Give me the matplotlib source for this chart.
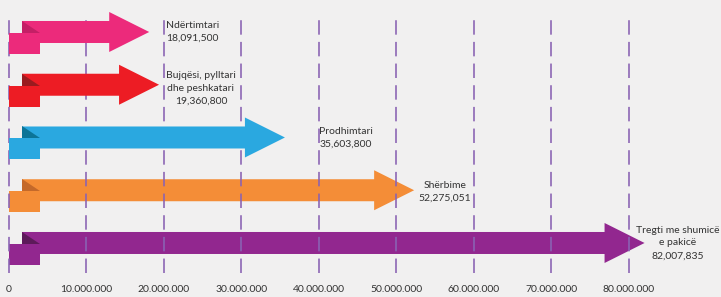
import numpy as np
import matplotlib.pyplot as plt
from matplotlib.patches import Polygon

# data
categories = ['Ndërtimtari', 'Bujqësi, pylltari\ndhe peshkatari', 'Prodhimtari',
              'Shërbime', 'Tregti me shumicë\ne pakicë']
values = [18091500, 19360800, 35603800, 52275051, 82007835]
value_labels = ['18,091,500', '19,360,800', '35,603,800', '52,275,051', '82,007,835']
ticks = [0, 10e6, 20e6, 30e6, 40e6, 50e6, 60e6, 70e6, 80e6]
tick_labels = ['0', '10.000.000', '20.000.000', '30.000.000', '40.000.000',
               '50.000.000', '60.000.000', '70.000.000', '80.000.000']

colors = ['#EC2A7B', '#ED1C24', '#2AA8E0', '#F48D37', '#92278F']
folds = ['#C41F66', '#9A1B1F', '#0C7497', '#C4692A', '#5D1A5A']
label_dx = [5.6e6, 5.4e6, 7.9e6, 4.0e6, 4.3e6]
label_dy = [0.0, 0.07, 0.0, 0.03, 0.0]
# the last two arrows sit under the dashed grid in the reference
arrow_z = [2, 2, 2, 1, 1]

plt.rcParams['font.family'] = ['Lato', 'DejaVu Sans']

fig = plt.figure(figsize=(7.21, 2.97), dpi=100)
fig.patch.set_facecolor('#F1F0F0')
ax = fig.add_axes([0, 24 / 297, 1, 260 / 297])
ax.set_facecolor('none')

px = 1e6 / 7.75          # value units per pixel
row = 1 / 52.75          # row units per pixel
ax.set_xlim(-9 * px, 712 * px)
ax.set_ylim(4.569, -0.360)

shaft_h = 11 * row
head_h = 20 * row
head_len = 40 * px
shaft_x0 = 13 * px
sq_x1 = 31 * px

for i, v in enumerate(values):
    y = i
    c = colors[i]
    z = arrow_z[i]
    # main shaft + head
    pts = [(shaft_x0, y - shaft_h), (v - head_len, y - shaft_h), (v - head_len, y - head_h),
           (v, y), (v - head_len, y + head_h), (v - head_len, y + shaft_h),
           (shaft_x0, y + shaft_h)]
    ax.add_patch(Polygon(pts, closed=True, color=c, lw=0, zorder=z, clip_on=False))
    # fold
    ax.add_patch(Polygon([(shaft_x0, y - shaft_h), (shaft_x0, y + row), (sq_x1, y + row)],
                         closed=True, color=folds[i], lw=0, zorder=z + 0.1))
    # small square
    ax.add_patch(Polygon([(0, y + row), (sq_x1, y + row), (sq_x1, y + 22 * row), (0, y + 22 * row)],
                         closed=True, color=c, lw=0, zorder=z + 0.2))
    ax.text(v + label_dx[i], y + label_dy[i], categories[i] + '\n' + value_labels[i],
            ha='center', va='center', fontsize=7.5, color='#333333', linespacing=1.55,
            zorder=5)

for t in ticks:
    ax.axvline(t, color='#8A63B3', lw=1.3, dashes=(8, 4), alpha=0.9, zorder=1.5)

ax.set_xticks(ticks)
ax.set_xticklabels(tick_labels, fontsize=7.5, color='#333333')
ax.tick_params(axis='x', length=0, pad=9)
ax.set_yticks([])
for s in ax.spines.values():
    s.set_visible(False)

fig.savefig('out.png', dpi=100, facecolor=fig.get_facecolor())
